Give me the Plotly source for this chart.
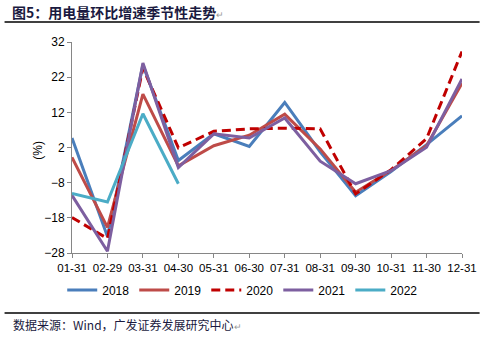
import plotly.graph_objects as go

categories = ["01-31", "02-29", "03-31", "04-30", "05-31", "06-30",
              "07-31", "08-31", "09-30", "10-31", "11-30", "12-31"]
s2018 = [4.7, -23.3, 25.5, -1.7, 5.9, 2.3, 14.8, 0.8, -11.7, -4.8, 2.8, 11.0]
s2019 = [-0.8, -20.7, 17.2, -3.2, 2.5, 5.5, 11.5, 1.6, -10.7, -4.5, 2.5, 20.3]
s2020 = [-17.9, -23.9, 24.6, 1.9, 6.6, 7.3, 7.5, 7.3, -11.2, -4.3, 4.5, 29.3]
s2021 = [-11.6, -27.5, 26.0, -3.7, 5.9, 4.7, 10.4, -1.9, -8.3, -4.6, 2.1, 21.5]
s2022 = [-11.1, -13.5, 11.6, -8.3]
y_ticks = [-28, -18, -8, 2, 12, 22, 32]

series = [
    ("2018", s2018, "#4A7EBB", "solid"),
    ("2019", s2019, "#BE4B48", "solid"),
    ("2020", s2020, "#C00000", "9px,5px"),
    ("2021", s2021, "#7D5FA0", "solid"),
    ("2022", s2022, "#4BACC6", "solid"),
]

fig = go.Figure()
for name, vals, color, dash in series:
    fig.add_trace(go.Scatter(
        x=categories[:len(vals)], y=vals, name=name, mode="lines",
        line=dict(color=color, width=3, dash=dash),
    ))

L, R, T, B = 72, 18, 42, 84
W, H = 489, 337
pw, ph = W - L - R, H - T - B

def px_x(x):
    return (x - L) / pw

def px_y(y):
    return (H - B - y) / ph

fig.update_layout(
    width=W, height=H,
    margin=dict(l=L, r=R, t=T, b=B),
    paper_bgcolor="white", plot_bgcolor="white",
    font=dict(family="Liberation Sans, Arial, sans-serif", size=12, color="#000000"),
    showlegend=True,
    legend=dict(orientation="h", x=px_x(62), y=px_y(290), xanchor="left", yanchor="middle",
                font=dict(size=12), bgcolor="rgba(0,0,0,0)", tracegroupgap=0,
                itemwidth=30),
    xaxis=dict(type="category", categoryorder="array", categoryarray=categories,
               range=[0, 11], showgrid=False, zeroline=False,
               showline=True, linecolor="#868686", linewidth=1,
               ticks="outside", ticklen=4, tickcolor="#868686",
               tickfont=dict(size=11.5)),
    yaxis=dict(range=[-28, 32], tickvals=y_ticks, showgrid=False, zeroline=False,
               showline=True, linecolor="#868686", linewidth=1,
               ticks="outside", ticklen=4, tickcolor="#868686",
               tickfont=dict(size=12)),
)

fig.add_annotation(xref="paper", yref="paper", x=px_x(37), y=px_y(150),
                   xanchor="center", yanchor="middle", showarrow=False,
                   text="(%)", textangle=-90, font=dict(size=12))

fig.add_shape(type="line", xref="paper", yref="paper",
              x0=px_x(3), x1=px_x(489), y0=px_y(22), y1=px_y(22),
              line=dict(color="#000000", width=1.5))
fig.add_shape(type="line", xref="paper", yref="paper",
              x0=px_x(3), x1=px_x(489), y0=px_y(313), y1=px_y(313),
              line=dict(color="#000000", width=1.5))

fig.add_annotation(xref="paper", yref="paper", x=px_x(9), y=px_y(12),
                   xanchor="left", yanchor="middle", showarrow=False,
                   text="<b>图5：用电量环比增速季节性走势</b><span style='font-size:9px;color:#999999'>↵</span>",
                   font=dict(family="Noto Sans CJK SC", size=14, color="#1a1a40"))
fig.add_annotation(xref="paper", yref="paper", x=px_x(10), y=px_y(324),
                   xanchor="left", yanchor="middle", showarrow=False,
                   text="数据来源：Wind，广发证券发展研究中心<span style='font-size:9px;color:#999999'>↵</span>",
                   font=dict(family="Noto Sans CJK SC", size=12, color="#1a1a40"))

fig.write_html("out.html")
